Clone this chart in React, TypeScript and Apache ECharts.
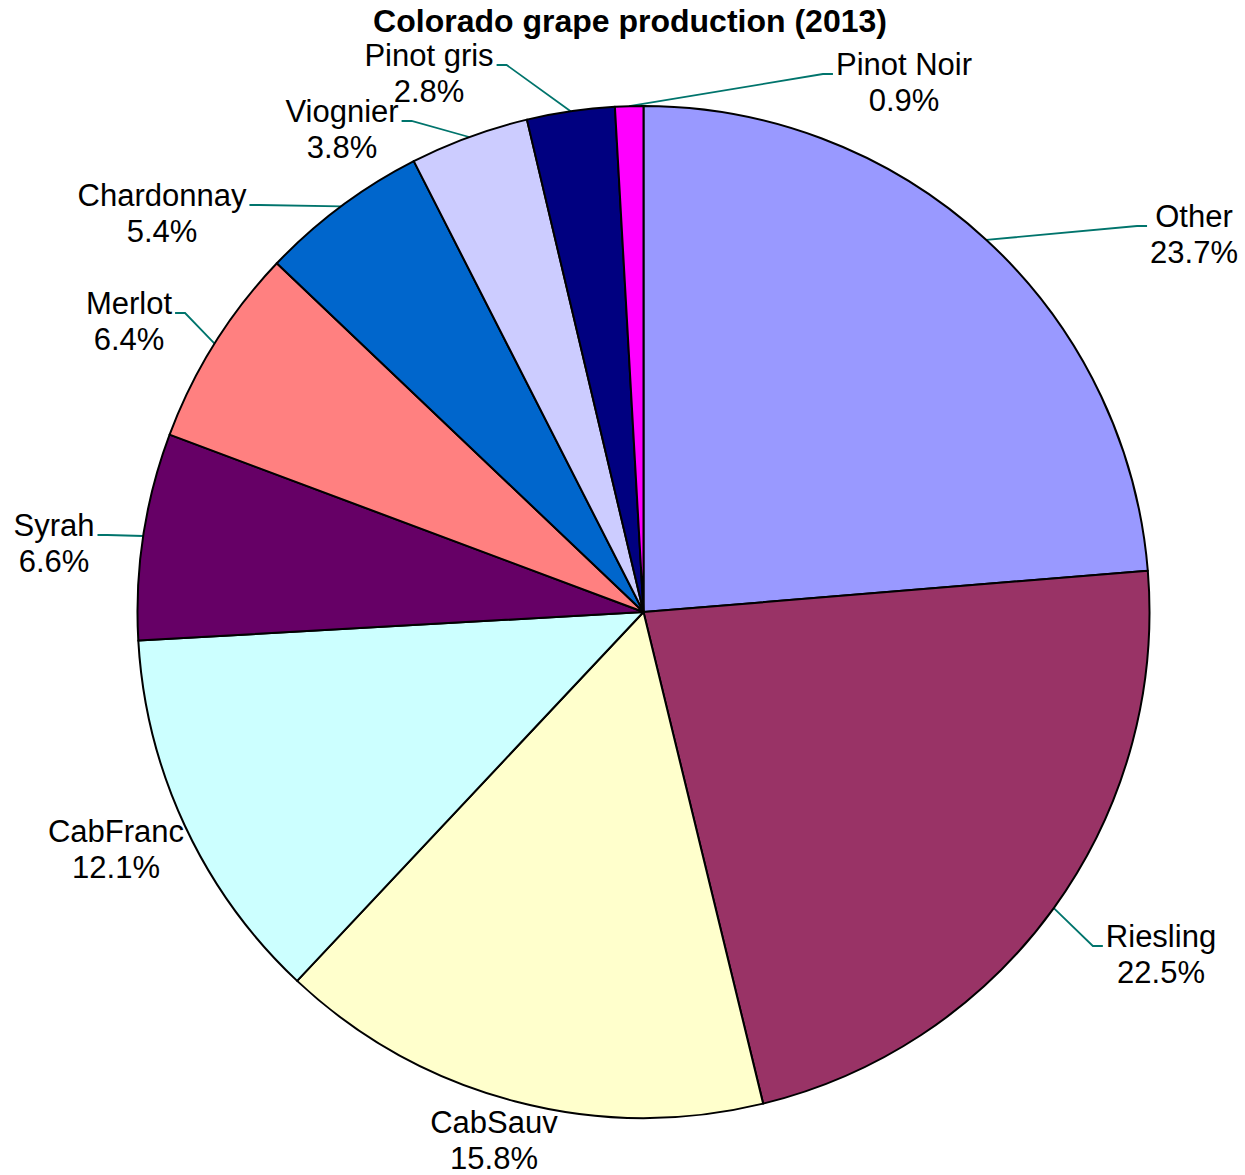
import React, { useEffect, useRef } from "react";
import * as echarts from "echarts";

const categories = ["Other", "Riesling", "CabSauv", "CabFranc", "Syrah", "Merlot", "Chardonnay", "Viognier", "Pinot gris", "Pinot Noir"];
const shares = [23.7, 22.5, 15.8, 12.1, 6.6, 6.4, 5.4, 3.8, 2.8, 0.9];
const sliceColors = ["#9999FF", "#993366", "#FFFFCC", "#CCFFFF", "#660066", "#FF8080", "#0066CC", "#CCCCFF", "#000080", "#FF00FF"];
const leaderShown = [true, true, false, false, true, true, true, true, true, true];
// label centre positions (layout, px)
const labelCenters = [
  [1194, 234], [1161, 954], [494, 1140], [116, 849], [54, 543],
  [129, 321], [162, 213], [342, 129], [429, 73], [904, 82],
];

const CX = 643.5;
const CY = 612;
const R = 506;

export default function App() {
  const ref = useRef<HTMLDivElement>(null);
  useEffect(() => {
    if (!ref.current) return;
    const chart = echarts.init(ref.current, null, { renderer: "svg" });
    const total = shares.reduce((a, b) => a + b, 0);
    const edgePoints: number[][] = [];
    let cum = 0;
    shares.forEach((v) => {
      const mid = ((cum + v / 2) / total) * Math.PI * 2;
      edgePoints.push([CX + R * Math.sin(mid), CY - R * Math.cos(mid)]);
      cum += v;
    });
    chart.setOption({
      animation: false,
      title: {
        text: "Colorado grape production (2013)",
        left: 625,
        top: 0,
        textAlign: "center",
        textStyle: { fontFamily: "Liberation Sans", fontWeight: "bold", fontSize: 32, color: "#000" },
      },
      series: [
        {
          type: "pie",
          center: [CX, CY],
          radius: R,
          startAngle: 90,
          clockwise: true,
          avoidLabelOverlap: false,
          emphasis: { disabled: true },
          itemStyle: { borderColor: "#000", borderWidth: 2 },
          label: {
            show: true,
            position: "outside",
            alignTo: "none",
            formatter: (p: any) => `${p.name}\n${p.value.toFixed(1)}%`,
            fontFamily: "Liberation Sans",
            fontSize: 31,
            lineHeight: 36,
            color: "#000",
            align: "center",
          },
          labelLine: {
            show: true,
            length: 10,
            length2: 10,
            smooth: false,
            lineStyle: { color: "#00746C", width: 1.8 },
          },
          labelLayout: (params: any) => {
            const i = params.dataIndex;
            const [lx, ly] = labelCenters[i];
            const w = params.labelRect.width;
            const edge = edgePoints[i];
            const out: any = { x: lx, y: ly, align: "center", verticalAlign: "middle" };
            if (leaderShown[i]) {
              const right = lx > edge[0];
              const attachX = right ? lx - w / 2 - 3 : lx + w / 2 + 3;
              const attachY = ly - 8;
              const elbowX = right ? attachX - 10 : attachX + 10;
              out.labelLinePoints = [edge, [elbowX, attachY], [attachX, attachY]];
            }
            return out;
          },
          data: categories.map((name, i) => ({
            name,
            value: shares[i],
            itemStyle: { color: sliceColors[i] },
            labelLine: { show: leaderShown[i] },
          })),
        },
      ],
    });
    return () => chart.dispose();
  }, []);
  return (
    <div
      ref={ref}
      style={{ position: "fixed", left: 0, top: 0, width: 1245, height: 1175, background: "#fff" }}
    />
  );
}
